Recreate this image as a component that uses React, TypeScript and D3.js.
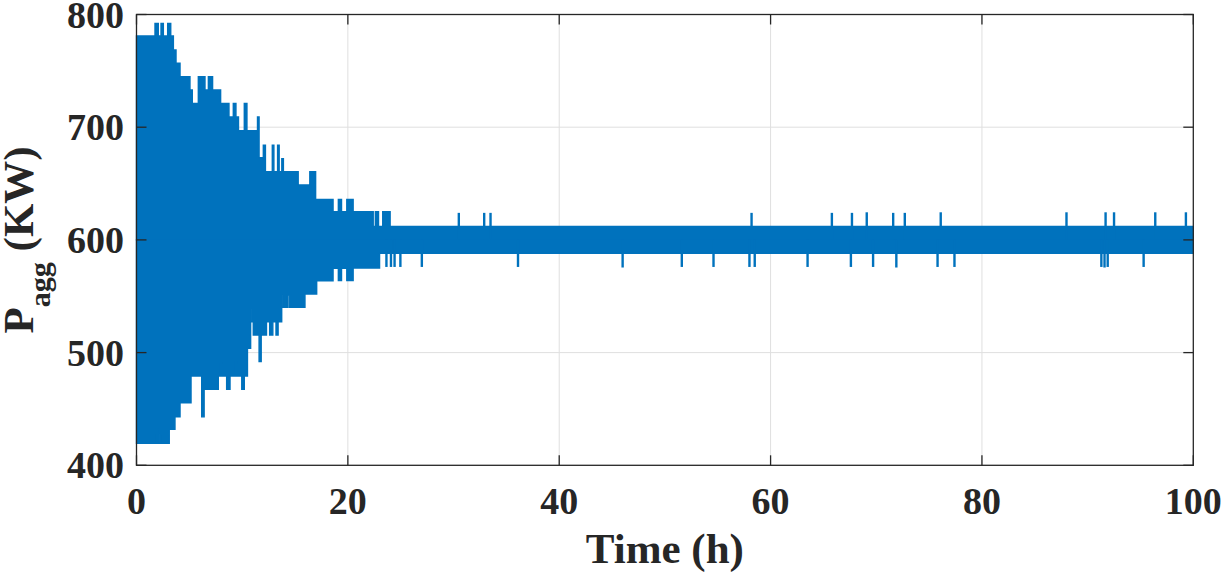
import React from "react";
import * as d3 from "d3";

// ---- data ----
// Upper envelope of P_agg, step-after breakpoints: time (h) / value (KW)
const upperT = [0, 1.6, 1.75, 2.06, 2.32, 2.54, 2.95, 3.24, 3.49, 3.74, 4.12, 5.06, 5.28, 5.85, 6.48, 6.8, 7.2, 7.96, 8.75, 9.16, 9.41, 9.65, 10.2, 10.45, 11.45, 11.6, 12.0, 12.2, 12.85, 13.0, 13.35, 13.5, 13.75, 13.9, 15.3, 16.4, 16.95, 18.6, 19.1, 19.4, 19.9, 20.5, 22.4, 22.6, 22.9, 23.3, 24.0, 100];
const upperV = [781, 781, 792, 781, 792, 781, 792, 781, 768.5, 756.7, 744.8, 733, 721, 744.8, 733, 744.8, 733, 721, 709, 721, 709, 697, 721, 697, 709, 673, 684, 660.5, 684, 660.5, 684, 660.5, 672, 660.5, 648.7, 660.5, 636, 625, 636, 625, 636, 625, 612, 625, 612, 625, 612, 612];

// Lower envelope of P_agg, step-after breakpoints
const lowerT = [0, 1.9, 2.0, 2.22, 2.32, 3.1, 3.64, 4.12, 5.16, 6.17, 6.4, 7.74, 7.95, 8.05, 8.53, 8.85, 9.35, 9.45, 9.96, 10.2, 10.5, 10.8, 10.92, 10.98, 11.05, 11.6, 11.8, 12.3, 12.6, 12.9, 13.2, 13.4, 13.74, 13.85, 13.95, 14.3, 14.45, 15.94, 17.05, 18.6, 19.1, 19.4, 19.9, 20.5, 23.0, 100];
const lowerV = [419.5, 432, 419.5, 428, 419.5, 432, 443.1, 455.5, 479.2, 443, 467.4, 479.2, 490.5, 479.2, 467.4, 479.2, 492, 479.2, 467.4, 479.2, 503.8, 527.4, 539, 527.4, 515.6, 492, 515.6, 527.4, 515.6, 527.4, 515.6, 527.4, 540.2, 551, 540.2, 551, 540.2, 552, 563.8, 574.8, 564, 574.8, 564, 575, 588, 588];

// Isolated spikes in the settled regime
const spikeUpT = [30.5, 32.9, 33.5, 58.2, 65.8, 67.7, 69.1, 71.6, 72.7, 76.1, 88.0, 91.7, 92.5, 96.4, 99.3];
const spikeUpV = [624, 624, 624, 624, 624, 624, 624.5, 624, 624, 624.5, 624.5, 624.5, 624.5, 624.5, 624.5];
const spikeDownT = [23.65, 24.08, 24.42, 24.97, 27.0, 36.1, 46.0, 51.6, 54.6, 58.0, 58.5, 63.5, 67.6, 69.7, 71.9, 75.8, 77.4, 91.3, 91.6, 91.9, 95.3];
const spikeDownV = [576, 576, 576, 576, 576, 576, 575.5, 576, 576, 576, 576, 576, 576, 576, 575.5, 576, 576, 576, 575.5, 576, 576];
const centerLevel = 600;

const xTicks = [0, 20, 40, 60, 80, 100];
const yTicks = [400, 500, 600, 700, 800];

const W = 1228;
const H = 573;
const left = 136.5;
const right = 1193.3;
const top = 14.5;
const bottom = 465.3;
const BLUE = "#0072bd";
const INK = "#262626";
const FONT = '"Liberation Serif", "DejaVu Serif", serif';

export default function App() {
  const x = d3.scaleLinear().domain([0, 100]).range([left, right]);
  const y = d3.scaleLinear().domain([400, 800]).range([bottom, top]);

  const upperData = upperT.map((t, i) => [t, upperV[i]] as [number, number]);
  const lowerData = lowerT.map((t, i) => [t, lowerV[i]] as [number, number]);

  const envArea = d3
    .area<[number, number]>()
    .x((d) => x(d[0]))
    .y0(() => y(centerLevel))
    .y1((d) => y(d[1]))
    .curve(d3.curveStepAfter);

  const txt = { fontFamily: FONT, fontWeight: 700 as const };

  return (
    <div style={{ position: "absolute", left: 0, top: 0 }}>
      <svg width={W} height={H} viewBox={`0 0 ${W} ${H}`} style={{ display: "block", background: "#fff" }}>
        {/* grid */}
        <g stroke="#dfdfdf" strokeWidth={1}>
          {xTicks.slice(1, -1).map((t) => (
            <line key={"gx" + t} x1={x(t)} x2={x(t)} y1={top} y2={bottom} />
          ))}
          {yTicks.slice(1, -1).map((t) => (
            <line key={"gy" + t} x1={left} x2={right} y1={y(t)} y2={y(t)} />
          ))}
        </g>

        {/* data */}
        <g>
          <path d={envArea(upperData) || ""} fill={BLUE} stroke={BLUE} strokeWidth={1.4} />
          <path d={envArea(lowerData) || ""} fill={BLUE} stroke={BLUE} strokeWidth={1.4} />
          {spikeUpT.map((t, i) => (
            <line key={"su" + i} x1={x(t)} x2={x(t)} y1={y(centerLevel)} y2={y(spikeUpV[i])} stroke={BLUE} strokeWidth={2.4} />
          ))}
          {spikeDownT.map((t, i) => (
            <line key={"sd" + i} x1={x(t)} x2={x(t)} y1={y(centerLevel)} y2={y(spikeDownV[i])} stroke={BLUE} strokeWidth={2.4} />
          ))}
        </g>

        {/* axes box and ticks */}
        <g stroke={INK} strokeWidth={1.3} fill="none">
          <rect x={left} y={top} width={right - left} height={bottom - top} />
          {xTicks.map((t) => (
            <g key={"tx" + t}>
              <line x1={x(t)} x2={x(t)} y1={bottom} y2={bottom - 10} />
              <line x1={x(t)} x2={x(t)} y1={top} y2={top + 10} />
            </g>
          ))}
          {yTicks.map((t) => (
            <g key={"ty" + t}>
              <line x1={left} x2={left + 10} y1={y(t)} y2={y(t)} />
              <line x1={right} x2={right - 10} y1={y(t)} y2={y(t)} />
            </g>
          ))}
        </g>

        {/* tick labels */}
        <g style={{ ...txt, fontSize: "38px" }} fill={INK}>
          {xTicks.map((t) => (
            <text key={"lx" + t} x={x(t)} y={514} textAnchor="middle">
              {t}
            </text>
          ))}
          {yTicks.map((t) => (
            <text key={"ly" + t} x={124} y={y(t) + 13} textAnchor="end">
              {t}
            </text>
          ))}
        </g>

        {/* axis titles */}
        <text x={(left + right) / 2} y={563} textAnchor="middle" style={{ ...txt, fontSize: "43px" }} fill={INK}>
          Time (h)
        </text>
        <text
          transform={`translate(33, ${(top + bottom) / 2}) rotate(-90)`}
          textAnchor="middle"
          style={{ ...txt, fontSize: "43px" }}
          fill={INK}
        >
          P
          <tspan style={{ fontSize: "30px" }} dy={17}>agg</tspan>
          <tspan dy={-17}> (KW)</tspan>
        </text>
      </svg>
    </div>
  );
}
